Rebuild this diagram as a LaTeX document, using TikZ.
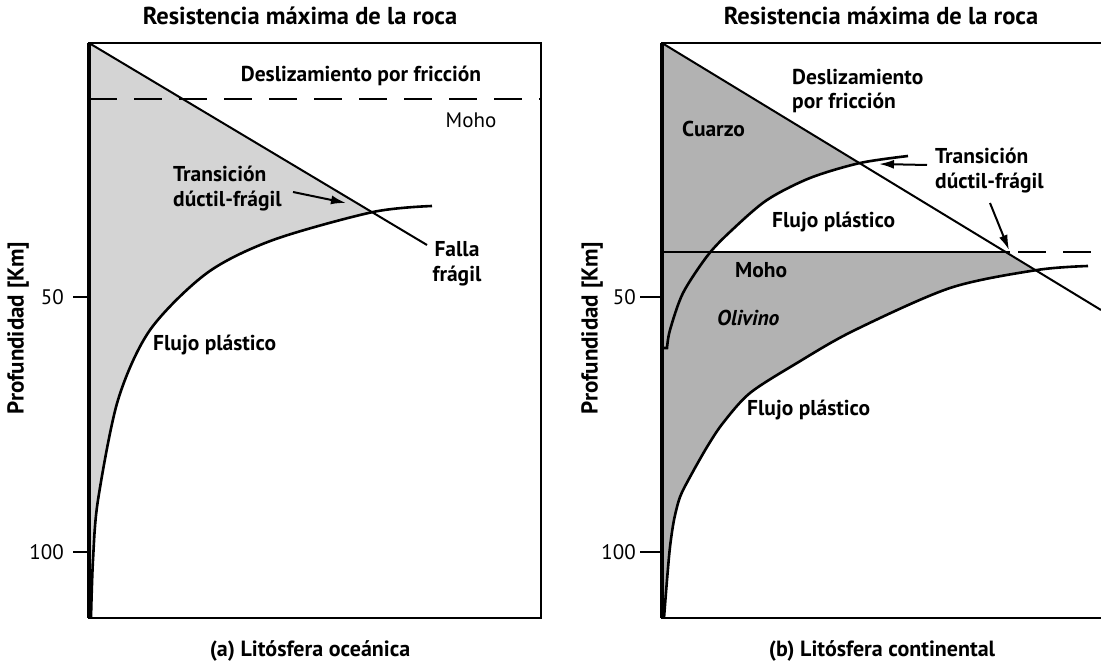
\documentclass[tikz,border=0pt]{standalone}
\usepackage{fontspec}
\setmainfont{PT Sans}
\usetikzlibrary{arrows.meta}
\begin{document}
\begin{tikzpicture}[x=1pt,y=-1pt,
  lbl/.style={font=\bfseries\fontsize{21.5}{25}\selectfont, inner sep=0pt, align=left},
  ttl/.style={font=\bfseries\fontsize{24.5}{28}\selectfont, inner sep=0pt},
  captxt/.style={font=\bfseries\fontsize{22}{26}\selectfont, inner sep=0pt},
  ylab/.style={font=\bfseries\fontsize{23}{26}\selectfont, inner sep=0pt, rotate=90},
  rlbl/.style={font=\fontsize{21}{25}\selectfont, inner sep=0pt},
  frame/.style={line width=2.4pt},
  fault/.style={line width=2pt},
  flow/.style={line width=2.6pt},
  moholine/.style={line width=2pt, dash pattern=on 28pt off 17pt},
  tickline/.style={line width=2pt},
  ptr/.style={line width=2pt, -{Latex[length=15pt,width=9pt]}},
  shadeL/.style={fill=black!17},
  shadeR/.style={fill=black!30}
]
\useasboundingbox (0,0) rectangle (1101,663);

% ---------------- Panel (a) ----------------
\coordinate (aTL) at (89,43);
\coordinate (aTR) at (541,43);
\coordinate (aBL) at (89,618);
\coordinate (aBR) at (541,618);
\coordinate (aFaultEnd) at (427,245);

\begin{scope}
  \clip (89,43) -- (600,347) -- (600,618) -- (89,618) -- cycle;
  \fill[shadeL] plot[smooth] coordinates {(91,618) (93,560) (98,500) (118,400) (150,330) (207,273) (273,240) (373,212) (432,206)} -- (432,43) -- (89,43) -- (89,618) -- cycle;
\end{scope}

\draw[moholine] (89,99) -- (541,99);
\draw[fault] (aTL) -- (aFaultEnd);
\draw[flow] plot[smooth] coordinates {(91,618) (93,560) (98,500) (118,400) (150,330) (207,273) (273,240) (373,212) (432,206)};
\draw[frame] (aTL) -- (aTR) -- (aBR) -- (aBL) -- cycle;
\draw[line width=3.2pt] (aTL) -- (aBL);

\draw[tickline] (73,297) -- (89,297);
\draw[tickline] (73,552) -- (89,552);
\node[rlbl, anchor=east] (a50) at (64,297) {50};
\node[rlbl, anchor=east] (a100) at (64,552) {100};
\node[ylab] (aylab) at (18,328) {Profundidad [Km]};

\node[ttl, anchor=base] (atitle) at (300,25) {Resistencia máxima de la roca};
\node[lbl, anchor=base] (adesl) at (361,82) {Deslizamiento por fricción};
\node[rlbl, anchor=base] (amoho) at (471,128) {Moho};
\node[lbl, anchor=base west] (atrans) at (173,182) {Transición};
\node[lbl, anchor=base west] (aduct) at (173,207) {dúctil-frágil};
\node[lbl, anchor=base] (afalla) at (457,257) {Falla};
\node[lbl, anchor=base] (afrag) at (457,282) {frágil};
\node[lbl, anchor=base west] (aflujo) at (153,350) {Flujo plástico};
\node[captxt, anchor=base] (acap) at (310,656) {(a) Litósfera oceánica};

\coordinate (aArS) at (293,192);
\coordinate (aArE) at (346,203);
\draw[ptr] (aArS) -- (aArE);

% ---------------- Panel (b) ----------------
\coordinate (bTL) at (662,43);
\coordinate (bTR) at (1101,43);
\coordinate (bBL) at (662,618);
\coordinate (bBR) at (1101,618);
\coordinate (bFaultEnd) at (1101,310);
\coordinate (bMohoX) at (1010,252);

\begin{scope}
  \clip (662,43) -- (1101,310) -- (1101,618) -- (662,618) -- cycle;
  \begin{scope}
    \clip (662,43) rectangle (1101,252);
    \fill[shadeR] plot[smooth] coordinates {(667,348) (670,330) (683,293) (708,255) (732,230) (767,200) (810,178) (860,163) (908,156)} -- (908,43) -- (662,43) -- (662,348) -- cycle;
  \end{scope}
  \begin{scope}
    \clip (662,252) rectangle (1101,618);
    \fill[shadeR] plot[smooth] coordinates {(664,618) (667,580) (670,547) (674,520) (680,497) (690,477) (707,447) (723,423) (750,393) (797,363) (853,331) (950,288) (1037,270) (1088,266)} -- (1088,200) -- (662,200) -- (662,618) -- cycle;
  \end{scope}
\end{scope}

\draw[line width=2pt] (662,252) -- (bMohoX);
\draw[moholine] (1018,252) -- (1101,252);
\draw[fault] (bTL) -- (bFaultEnd);
\draw[flow] (662,348) -- plot[smooth] coordinates {(667,348) (670,330) (683,293) (708,255) (732,230) (767,200) (810,178) (860,163) (908,156)};
\draw[flow] plot[smooth] coordinates {(664,618) (667,580) (670,547) (674,520) (680,497) (690,477) (707,447) (723,423) (750,393) (797,363) (853,331) (950,288) (1037,270) (1088,266)};
\draw[frame] (bTR) -- (bTL) -- (bBL) -- (bBR);
\draw[line width=3.2pt] (bTL) -- (bBL);

\draw[tickline] (640,297) -- (662,297);
\draw[tickline] (640,552) -- (662,552);
\node[rlbl, anchor=east] (b50) at (636,297) {50};
\node[rlbl, anchor=east] (b100) at (636,552) {100};
\node[ylab] (bylab) at (592,328) {Profundidad [Km]};

\node[ttl, anchor=base] (btitle) at (881,25) {Resistencia máxima de la roca};
\node[lbl, anchor=base west] (bdesl1) at (792,85) {Deslizamiento};
\node[lbl, anchor=base west] (bdesl2) at (792,109) {por fricción};
\node[lbl, anchor=base west] (bcuarzo) at (682,137) {Cuarzo};
\node[lbl, anchor=base west] (btrans) at (935,164) {Transición};
\node[lbl, anchor=base west] (bduct) at (935,189) {dúctil-frágil};
\node[lbl, anchor=base west] (bflujo1) at (772,228) {Flujo plástico};
\node[lbl, anchor=base west] (bmoho) at (735,278) {Moho};
\node[lbl, anchor=base west, font=\bfseries\itshape\fontsize{21.5}{25}\selectfont] (boliv) at (717,325) {Olivino};
\node[lbl, anchor=base west] (bflujo2) at (747,415) {Flujo plástico};
\node[captxt, anchor=base] (bcap) at (882,656) {(b) Litósfera continental};

\coordinate (bAr1S) at (927,165);
\coordinate (bAr1E) at (879,164);
\draw[ptr] (bAr1S) -- (bAr1E);
\coordinate (bAr2S) at (990,203);
\coordinate (bAr2E) at (1009,250);
\draw[ptr] (bAr2S) -- (bAr2E);
\end{tikzpicture}
\end{document}
